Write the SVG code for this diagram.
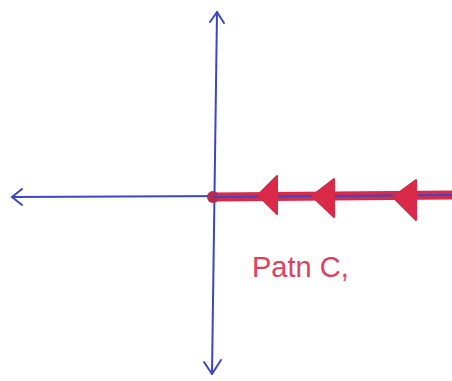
<svg xmlns="http://www.w3.org/2000/svg" width="452" height="381" viewBox="0 0 452 381">
<defs>
<style>
.axis{stroke:#3b47c4;stroke-width:2;fill:none;stroke-linecap:round;stroke-linejoin:round}
.path{stroke:#d92a4a;stroke-width:9;fill:none;stroke-linecap:butt}
.head{fill:#d92a4a;stroke:#d92a4a;stroke-width:2;stroke-linejoin:round}
.lbl{font-family:"Liberation Sans",sans-serif;font-size:29px;fill:#e0405e}
</style>
</defs>
<rect width="452" height="381" fill="#ffffff"/>
<g id="connectors">
<g id="x-axis">
<path class="axis" d="M12 197 L452 195"/>
<path class="axis" d="M22 189 L12 197 L22 205"/>
</g>
<g id="y-axis">
<path class="axis" d="M217 12 L212 374"/>
<path class="axis" d="M210 22 L217 12 L224 23"/>
<path class="axis" d="M204 362 L212 374 L221 360"/>
</g>
</g>
<g id="path-c1">
<path class="path" d="M213 197 L452 195"/>
<circle cx="213" cy="197" r="6" fill="#c02848"/>
<path class="axis" d="M213 197 L452 195" stroke-width="2" stroke="#3a2a7a"/>
<polygon class="head" points="258,195 277,176 277,214"/>
<polygon class="head" points="312,196 334,179 334,217"/>
<polygon class="head" points="393,197 416,180 416,220"/>
</g>
<g id="label">
<text class="lbl" x="252" y="277">Patn C,</text>
</g>
</svg>
